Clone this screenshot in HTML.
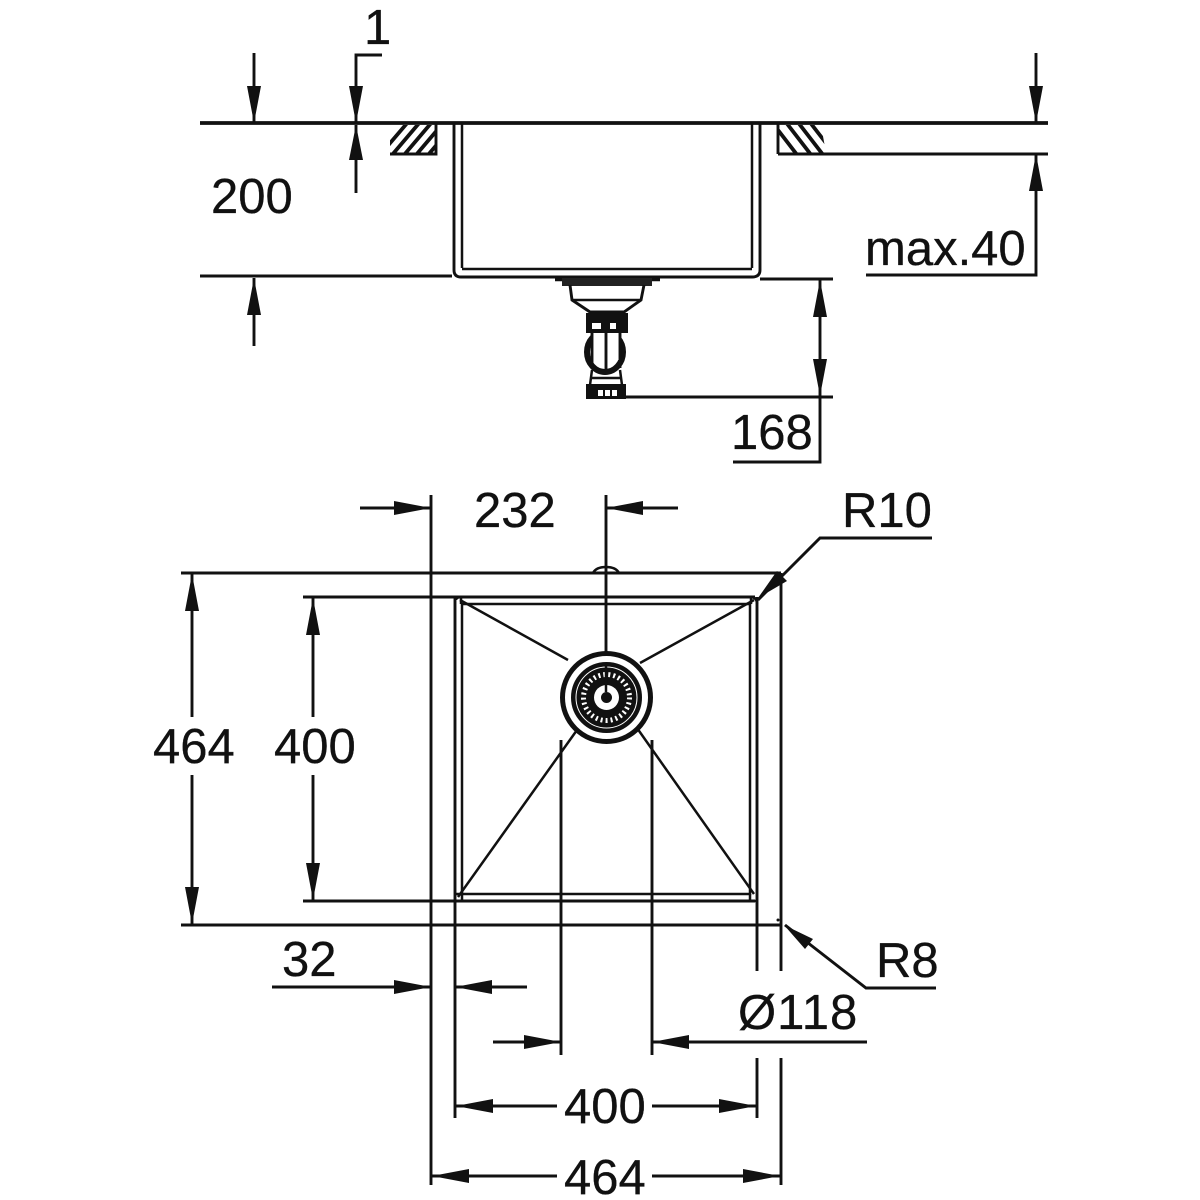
<!DOCTYPE html>
<html><head><meta charset="utf-8"><style>
html,body{margin:0;padding:0;background:#fff;width:1200px;height:1200px;overflow:hidden}
svg{display:block}
text{font-family:"Liberation Sans",sans-serif;font-size:49px;fill:#111;stroke:#111;stroke-width:.3}
.l{stroke:#111;stroke-width:2.900;fill:none}
.t{stroke:#111;stroke-width:2.500;fill:none}
.h{stroke:#111;stroke-width:3.800;fill:none}
.a{fill:#111;stroke:none}
</style></head><body>
<svg width="1200" height="1200" viewBox="0 0 1200 1200" xmlns="http://www.w3.org/2000/svg">
<defs>
<clipPath id="hl"><path d="M390 125H436V153H390Z"/></clipPath>
<clipPath id="hr"><path d="M778 125H821L826 153H778Z"/></clipPath>
</defs>

<!-- SIDE VIEW -->
<path class="h" d="M200 123H1048"/>
<path class="l" d="M778 154H1048M200 276H452M760 279H833"/>
<path class="l" d="M390 154H436V124M778 124V154"/>
<g clip-path="url(#hl)"><path class="h" d="M380 155L414 115M392 155L426 115M404 155L438 115M416 155L450 115M428 155L462 115"/></g>
<g clip-path="url(#hr)"><path class="h" d="M778 130L798 156M778 112L812 156M790 112L824 156M802 112L836 156M814 112L848 156"/></g>
<path class="l" d="M454 123V270Q454 277 461 277H752Q760 277 760 270V123"/>
<path class="t" d="M462 123V268M752 123V268"/>
<path class="t" d="M462 269H752"/>

<!-- drain side -->
<path d="M555 279.500H660" stroke="#111" stroke-width="3.500"/>
<rect x="562" y="278" width="90" height="8" fill="#222"/>
<path class="l" d="M570 285L572 300L590 312H624L641 300L644 285"/>
<path class="t" d="M572 300H641"/>
<rect x="586" y="313" width="42" height="20" fill="#111"/>
<rect x="592" y="323" width="9" height="6" fill="#fff"/><rect x="610" y="323" width="6" height="6" fill="#fff"/>
<ellipse cx="605" cy="352" rx="18" ry="20" fill="none" stroke="#111" stroke-width="6"/>
<path d="M592 333H620V360H592Z" fill="#fff"/>
<path class="l" d="M592 333V368M620 333V368M606 333V370"/>
<path class="t" d="M592 370L590 385M620 370L622 385M592 378H620"/>
<rect x="586" y="384" width="40" height="15" fill="#111"/>
<rect x="598" y="390" width="5" height="6" fill="#fff"/><rect x="605" y="390" width="5" height="6" fill="#fff"/><rect x="612" y="390" width="5" height="6" fill="#fff"/>
<path class="l" d="M626 397H833"/>

<!-- side dims -->
<path class="l" d="M254 53V123M254 278V346"/>
<path class="a" d="M254 123L247 86H261ZM254 278L247 315H261Z"/>
<path class="l" d="M382 55H356V123M356 125V193"/>
<path class="a" d="M356 123L349 86H363ZM356 125L349 160H363Z"/>
<path class="l" d="M1036 53V123M1036 154V275H866"/>
<path class="a" d="M1036 123L1029 86H1043ZM1036 154L1029 191H1043Z"/>
<path class="l" d="M820 279V462H733"/>
<path class="a" d="M820 280L813 317H827ZM820 396L813 359H827Z"/>
<text x="364" y="44">1</text>
<text x="211" y="213">200</text>
<text x="865" y="265">max.40</text>
<text x="731" y="449">168</text>

<!-- PLAN VIEW -->
<path class="l" d="M181 573H781M303 597H755M181 925H781M303 901H755"/>
<path class="l" d="M431 495V1185M781 573V971M781 1058V1185M757 597V971M757 1058V1118M455 597V1118"/>
<path class="t" d="M462 604H750V894H462Z"/>
<path class="t" d="M456 600Q456 597 462 597M750 597Q757 597 757 604"/>
<path class="t" d="M461 597L461 604M751 597V604M455 894H462V901M750 894V901H757"/>
<path class="t" d="M460 600L568 660M754 600L640 663M458 897L577 730M754 894L637 728"/>
<path class="t" d="M593 573Q596 567 606 567Q616 567 619 573"/>

<path class="l" d="M606 495V690"/>
<path class="l" d="M561 740V1055M652 740V1055"/>

<!-- drain plan -->
<circle cx="606.500" cy="697.500" r="44" fill="#fff" stroke="#111" stroke-width="5"/>
<circle cx="606.500" cy="697.500" r="34" fill="#111" stroke="#111" stroke-width="3"/>
<circle cx="606.500" cy="697.500" r="30.500" fill="none" stroke="#fff" stroke-width="1"/>
<circle cx="606.500" cy="697.500" r="23" fill="none" stroke="#fff" stroke-width="5" stroke-dasharray="2 3"/>
<circle cx="606.500" cy="697.500" r="12.500" fill="#fff"/>
<circle cx="606.500" cy="697.500" r="5.500" fill="#111"/>
<path class="t" d="M606 665V692"/>

<!-- plan dims -->
<path class="l" d="M360 508H431M606 508H678"/>
<path class="a" d="M431 508L394 501V515ZM606 508L643 501V515Z"/>
<path class="l" d="M192 573V717M192 775V925"/>
<path class="a" d="M192 574L185 611H199ZM192 924L185 887H199Z"/>
<path class="l" d="M313 597V717M313 775V901"/>
<path class="a" d="M313 598L306 635H320ZM313 900L306 863H320Z"/>
<path class="l" d="M272 987H431M455 987H527"/>
<path class="a" d="M431 987L394 980V994ZM455 987L492 980V994Z"/>
<path class="l" d="M493 1042H561M652 1042H867"/>
<path class="a" d="M561 1042L524 1035V1049ZM652 1042L689 1035V1049Z"/>
<path class="l" d="M455 1106H557M652 1106H757"/>
<path class="a" d="M456 1106L493 1099V1113ZM756 1106L719 1099V1113Z"/>
<path class="l" d="M431 1176H557M652 1176H781"/>
<path class="a" d="M432 1176L469 1169V1183ZM780 1176L743 1169V1183Z"/>

<path class="l" d="M932 538H820L758 600"/>
<path class="a" d="M758 598L777 571L787 581Z"/>
<path class="l" d="M936 988H866L785 925"/>
<path class="a" d="M784 925L813 939L805 949Z"/>
<circle cx="778" cy="920" r="1.500" fill="#111"/>

<text x="474" y="527">232</text>
<text x="842" y="527">R10</text>
<text x="153" y="763">464</text>
<text x="274" y="763">400</text>
<text x="282" y="976">32</text>
<text x="876" y="977">R8</text>
<text x="738" y="1029" style="letter-spacing:1px">Ø118</text>
<text x="564" y="1123">400</text>
<text x="564" y="1194">464</text>
</svg>
</body></html>
